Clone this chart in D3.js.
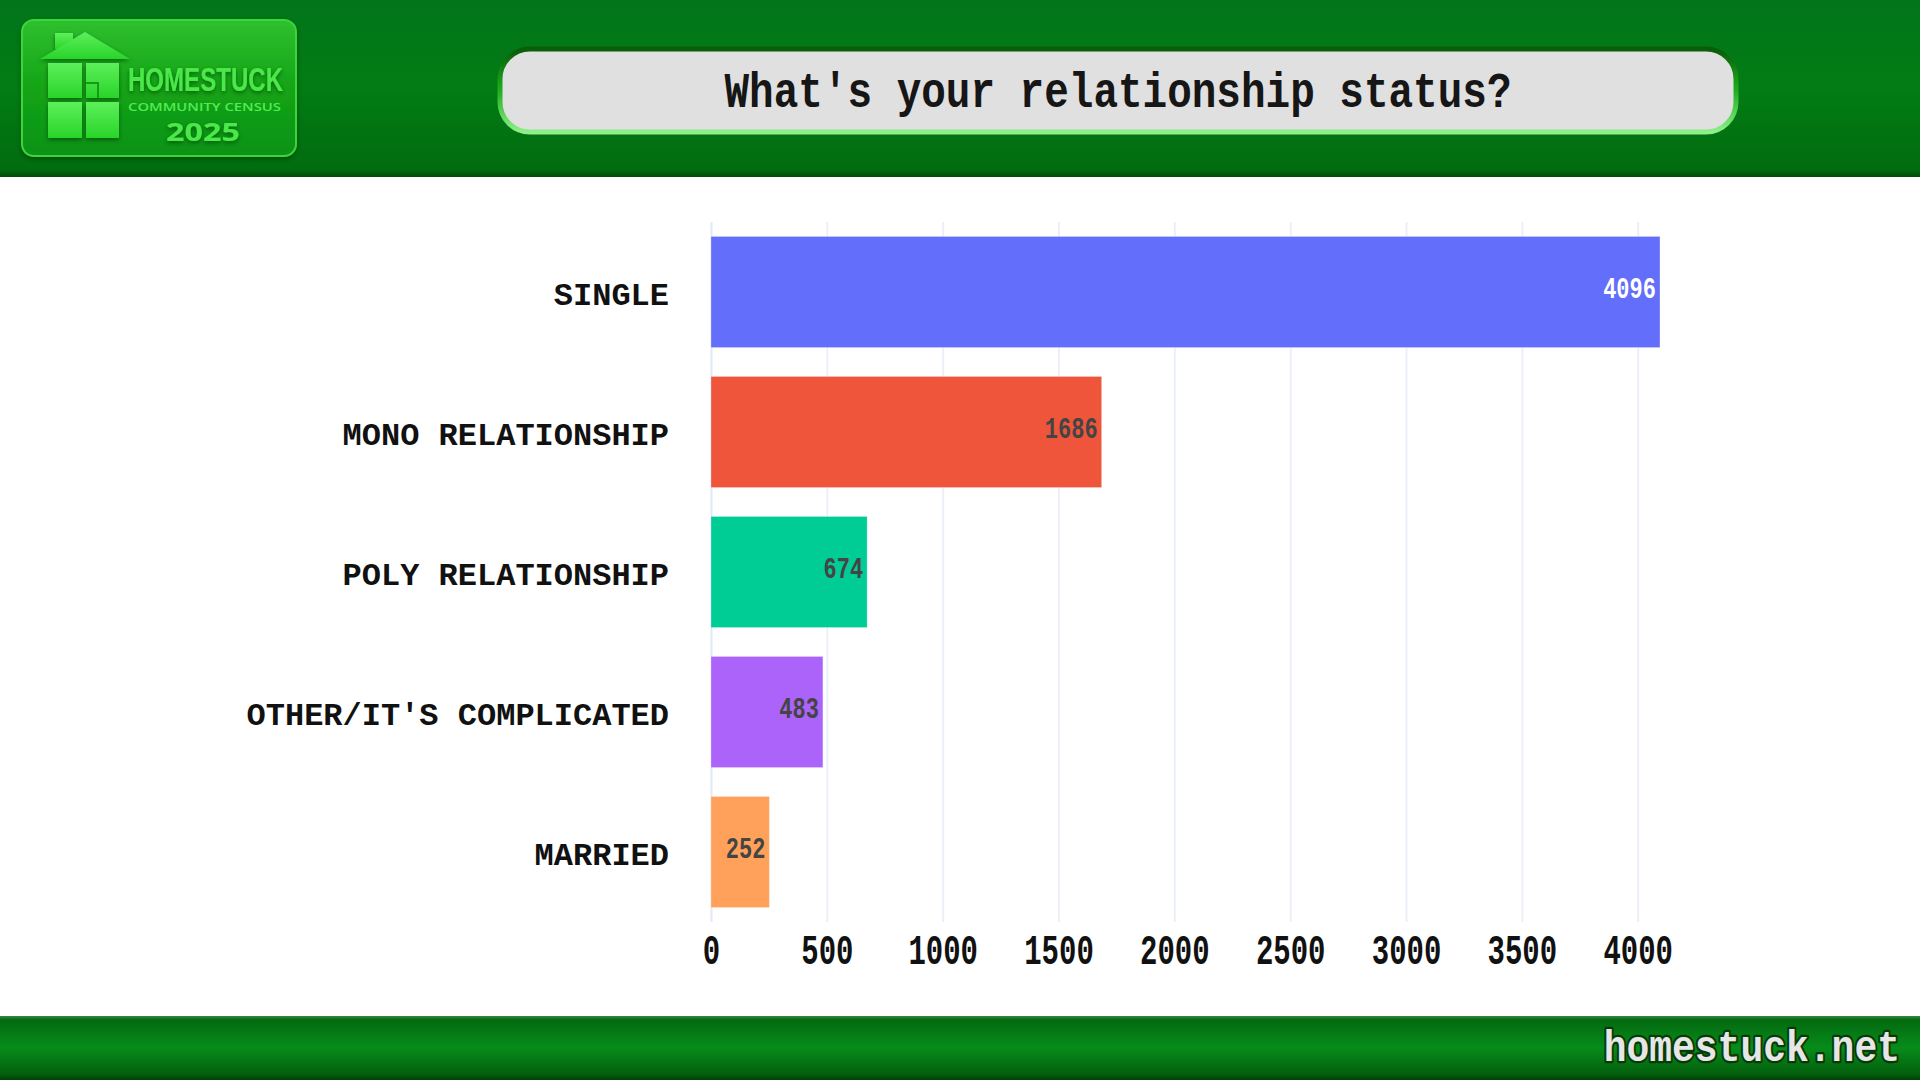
<!DOCTYPE html>
<html>
<head>
<meta charset="utf-8">
<script src="https://cdn.jsdelivr.net/npm/d3@7"></script>
<style>
  body { margin: 0; background: #fff; }
  svg { display: block; }
</style>
</head>
<body>
<div id="chart"></div>
<script>
// data
const categories = ["SINGLE", "MONO RELATIONSHIP", "POLY RELATIONSHIP", "OTHER/IT'S COMPLICATED", "MARRIED"];
const counts = [4096, 1686, 674, 483, 252];
const barColors = ["#636efa", "#ef553b", "#00cc96", "#ab63fa", "#ffa15a"];
const labelColors = ["#ffffff", "#444444", "#444444", "#444444", "#444444"];
const xTicks = [0, 500, 1000, 1500, 2000, 2500, 3000, 3500, 4000];
const title = "What's your relationship status?";
const siteName = "homestuck.net";

const W = 1920, H = 1080;
const pixFont = "'Liberation Mono', 'Courier New', monospace";

const svg = d3.select("#chart").append("svg")
  .attr("width", W).attr("height", H);

const defs = svg.append("defs");

function vGrad(id, stops) {
  const g = defs.append("linearGradient").attr("id", id)
    .attr("x1", 0).attr("y1", 0).attr("x2", 0).attr("y2", 1);
  stops.forEach(s => g.append("stop").attr("offset", s[0]).attr("stop-color", s[1]));
}
vGrad("hdr", [[0, "#02751a"], [0.5, "#027c14"], [0.96, "#016c0f"], [1, "#014a0a"]]);
vGrad("ftr", [[0, "#3a8a44"], [0.06, "#046a10"], [0.5, "#078c1b"], [0.92, "#035d0c"], [1, "#023e07"]]);
vGrad("logoBox", [[0, "#2fc02f"], [0.5, "#13a416"], [1, "#0d9212"]]);
vGrad("house", [[0, "#5cf05a"], [1, "#2ad42a"]]);
vGrad("titleRim", [[0, "#0a5c0a"], [0.5, "#1fae1f"], [1, "#8ef08a"]]);

const shadow = defs.append("filter").attr("id", "sh").attr("x", "-10%").attr("y", "-10%").attr("width", "120%").attr("height", "130%");
shadow.append("feDropShadow").attr("dx", 0).attr("dy", 2).attr("stdDeviation", 2).attr("flood-color", "#003300").attr("flood-opacity", 0.6);

// header band
svg.append("rect").attr("x", 0).attr("y", 0).attr("width", W).attr("height", 177).attr("fill", "url(#hdr)");

// footer band
svg.append("rect").attr("x", 0).attr("y", 1016).attr("width", W).attr("height", 64).attr("fill", "url(#ftr)");

// logo
const logo = svg.append("g");
logo.append("rect").attr("x", 22).attr("y", 20).attr("width", 274).attr("height", 136).attr("rx", 12)
  .attr("fill", "url(#logoBox)").attr("stroke", "#3ad63a").attr("stroke-width", 2).attr("filter", "url(#sh)");
const house = logo.append("g").attr("fill", "url(#house)").attr("filter", "url(#sh)");
house.append("rect").attr("x", 55).attr("y", 33).attr("width", 18).attr("height", 16);
house.append("polygon").attr("points", "40,59 85,32 130,59");
house.append("rect").attr("x", 48).attr("y", 63).attr("width", 34).attr("height", 35);
house.append("rect").attr("x", 86).attr("y", 63).attr("width", 33).attr("height", 35);
house.append("rect").attr("x", 48).attr("y", 102).attr("width", 34).attr("height", 36);
house.append("rect").attr("x", 86).attr("y", 102).attr("width", 33).attr("height", 36);
logo.append("path").attr("d", "M86,83 H98 V98").attr("fill", "none").attr("stroke", "#139c16").attr("stroke-width", 2);
logo.append("text").attr("x", 128).attr("y", 91).attr("textLength", 155).attr("lengthAdjust", "spacingAndGlyphs")
  .attr("font-family", "'Liberation Sans Narrow', 'Liberation Sans', Arial, sans-serif").attr("font-weight", "bold")
  .attr("font-size", 34).attr("fill", "#4ce84a").attr("filter", "url(#sh)").text("HOMESTUCK");
logo.append("text").attr("x", 128).attr("y", 111).attr("textLength", 153).attr("lengthAdjust", "spacingAndGlyphs")
  .attr("font-family", "'Open Sans', sans-serif").attr("font-weight", "600").attr("font-size", 11).attr("fill", "#52ec50").text("COMMUNITY CENSUS");
logo.append("text").attr("x", 203).attr("y", 141).attr("text-anchor", "middle").attr("textLength", 74).attr("lengthAdjust", "spacingAndGlyphs")
  .attr("font-family", "'Open Sans', sans-serif").attr("font-weight", "bold")
  .attr("font-size", 25).attr("fill", "#4ce84a").attr("filter", "url(#sh)").text("2025");

// title box
svg.append("rect").attr("x", 500).attr("y", 49).attr("width", 1236).attr("height", 83).attr("rx", 30)
  .attr("fill", "#e0e0e0").attr("stroke", "url(#titleRim)").attr("stroke-width", 5);
svg.append("text").attr("transform", "translate(1118,107) scale(1,1.2)")
  .attr("text-anchor", "middle").attr("font-family", pixFont).attr("font-weight", "bold")
  .attr("font-size", 41).attr("fill", "#161616").text(title);

// chart scales
const x = d3.scaleLinear().domain([0, 4312]).range([711, 1710]);
const y = d3.scaleBand().domain(categories).range([222, 922]).paddingInner(0.207).paddingOuter(0.1035);

// gridlines
const grid = svg.append("g").attr("transform", "translate(0,922)")
  .call(d3.axisBottom(x).tickValues(xTicks).tickSize(-700).tickFormat(""));
grid.select(".domain").remove();
grid.selectAll("line").attr("stroke", "#ebf0f8").attr("stroke-width", 2);
grid.selectAll(".tick").filter(d => d === 0).select("line").attr("stroke", "#e2e8f4");

// bars
svg.append("g").selectAll("rect").data(categories).join("rect")
  .attr("x", x(0))
  .attr("y", d => y(d))
  .attr("width", (d, i) => x(counts[i]) - x(0))
  .attr("height", y.bandwidth())
  .attr("fill", (d, i) => barColors[i])
  .attr("stroke", "rgba(255,255,255,0.25)").attr("stroke-width", 1);

// value labels inside bar ends
svg.append("g").selectAll("text").data(categories).join("text")
  .attr("transform", (d, i) => `translate(${x(counts[i]) - 4},${y(d) + y.bandwidth() / 2 - 2}) scale(1,1.35)`)
  .attr("text-anchor", "end").attr("dominant-baseline", "central")
  .attr("font-family", pixFont).attr("font-weight", "bold").attr("font-size", 22)
  .attr("fill", (d, i) => labelColors[i])
  .text((d, i) => counts[i]);

// category axis
const yAxis = svg.append("g").attr("transform", "translate(669,0)")
  .call(d3.axisLeft(y).tickSize(0).tickPadding(0));
yAxis.select(".domain").remove();
yAxis.selectAll("text")
  .attr("x", 0).attr("dy", null).attr("y", 4)
  .attr("dominant-baseline", "central")
  .attr("font-family", pixFont).attr("font-weight", "bold").attr("font-size", 32).attr("fill", "#111");

// x axis ticks
const xAxis = svg.append("g").attr("transform", "translate(0,918)")
  .call(d3.axisBottom(x).tickValues(xTicks).tickFormat(d3.format("d")).tickSize(0).tickPadding(0));
xAxis.select(".domain").remove();
xAxis.selectAll("text")
  .attr("y", 35 / 1.45).attr("dy", null).attr("dominant-baseline", "central")
  .attr("transform", "scale(1,1.45)")
  .attr("font-family", pixFont).attr("font-weight", "bold").attr("font-size", 29).attr("fill", "#111");

// footer site name
svg.append("text").attr("transform", "translate(1900,1061) scale(1,1.15)")
  .attr("text-anchor", "end").attr("font-family", pixFont).attr("font-weight", "bold").attr("font-size", 38)
  .attr("fill", "#e6e6e6").attr("stroke", "#083a08").attr("stroke-width", 4).attr("paint-order", "stroke")
  .attr("stroke-linejoin", "round").text(siteName);
</script>
</body>
</html>
